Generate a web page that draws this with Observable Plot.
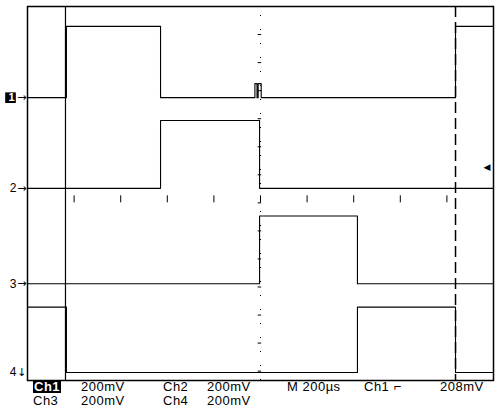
<!DOCTYPE html>
<html>
<head>
<meta charset="utf-8">
<script src="https://cdn.jsdelivr.net/npm/d3@7"></script>
<script src="https://cdn.jsdelivr.net/npm/@observablehq/plot@0.6"></script>
<style>
  body { margin: 0; background: #fff; }
  #wrap { position: relative; width: 500px; height: 409px; font-family: "Liberation Sans", Arial, sans-serif; }
  #readout span { position: absolute; font-size: 13px; line-height: 12px; color: #000; letter-spacing: 0.5px; white-space: nowrap; }
  #readout .inv { background: #000; color: #fff; padding: 0 1px; font-weight: bold; }
</style>
</head>
<body>
<div id="wrap">
  <div id="chart"></div>
  <div id="readout"></div>
</div>
<script>
// Time axis in microseconds (10 divisions x 200 µs), vertical in divisions (8 divs)
const timeDomain = [0, 2000];
const divDomain = [-4, 4];
const voltsPerDiv = 200; // mV/div for all channels

// Channel ground offsets (divisions from screen centre)
const channelNames = ["1", "2", "3", "4"];
const channelOffsets = [2.05, 0.11, -1.93, -3.83];
const channelArrows = ["→", "→", "→", "↓"];

// Step traces: transition times (µs) and levels (mV)
const ch1Time = [0, 167, 571, 976, 985, 990, 1003, 1837, 2000];
const ch1mV   = [0, 305, 0,   60,  0,   60,  0,    305,  305];
const ch2Time = [0, 571, 996, 2000];
const ch2mV   = [0, 290, 0,   0];
const ch3Time = [0, 996, 1416, 2000];
const ch3mV   = [0, 290, 0,    0];
const ch4Time = [0, 167, 1416, 1837, 2000];
const ch4mV   = [280, 0, 280,  0,    0];

// Cursors (µs) and trigger level marker (div)
const cursorSolid = 163;
const cursorDashed = 1837;
const triggerDiv = 0.56;

// Readout text
const readRow1 = [["Ch1", 33, true], ["200mV", 81], ["Ch2", 163], ["200mV", 207], ["M 200µs", 287], ["Ch1 ⌐", 364], ["208mV", 440]];
const readRow2 = [["Ch3", 33], ["200mV", 81], ["Ch4", 163], ["200mV", 207]];

const traces = [
  [ch1Time, ch1mV, 0], [ch2Time, ch2mV, 1], [ch3Time, ch3mV, 2], [ch4Time, ch4mV, 3]
].map(([t, v, i]) => t.map((ti, k) => ({t: ti, v: channelOffsets[i] + v[k] / voltsPerDiv, ch: channelNames[i]})));

// centre graticule ticks
const vTicks = d3.range(-3.8, 4, 0.6);
const hTicks = d3.range(200, 2000, 200);

const markers = channelNames.map((n, i) => ({n, y: channelOffsets[i], a: channelArrows[i]}));

const plot = Plot.plot({
  width: 500,
  height: 382,
  marginTop: 6,
  marginLeft: 27,
  marginRight: 7,
  marginBottom: 2,
  x: {domain: timeDomain, axis: null},
  y: {domain: divDomain, axis: null},
  marks: [
    Plot.frame({stroke: "#000", strokeWidth: 1.5}),
    // centre vertical graticule dashes
    Plot.ruleX([1000], {y1: -4, y2: 4, stroke: "#000", strokeWidth: 1, strokeDasharray: "1,13"}),
    Plot.ruleY(vTicks, {x1: 990, x2: 1005, stroke: "#000", strokeWidth: 1}),
    // centre horizontal graticule ticks
    Plot.ruleX(hTicks, {y1: -0.05, y2: -0.2, stroke: "#000", strokeWidth: 1}),
    // cursors
    Plot.ruleX([cursorSolid], {stroke: "#000", strokeWidth: 1.2}),
    Plot.ruleX([cursorDashed], {stroke: "#000", strokeWidth: 1.5, strokeDasharray: "11,5"}),
    // traces
    ...traces.map(tr => Plot.line(tr, {x: "t", y: "v", curve: "step-after", stroke: "#000", strokeWidth: 1.1})),
    // channel markers
    Plot.dot(markers.filter(d => d.n === "1"), {x: 0, y: "y", dx: -17, symbol: "square", r: 6, fill: "#000"}),
    Plot.text(markers.filter(d => d.n === "1"), {x: 0, y: "y", text: "n", dx: -13, textAnchor: "end", fill: "#fff", fontSize: 11, fontWeight: "bold", fontFamily: "Liberation Sans"}),
    Plot.text(markers.filter(d => d.n !== "1"), {x: 0, y: "y", text: "n", dx: -11, textAnchor: "end", fill: "#000", fontSize: 12, fontFamily: "Liberation Sans"}),
    Plot.text(markers, {x: 0, y: "y", text: "a", dx: -1, textAnchor: "end", fill: "#000", fontSize: 11, fontFamily: "DejaVu Sans"}),
    // trigger level marker
    Plot.text([triggerDiv], {x: 2000, y: d => d, text: ["◀"], dx: -3, textAnchor: "end", fill: "#000", fontSize: 9, fontFamily: "DejaVu Sans"})
  ]
});
document.getElementById("chart").appendChild(plot);

const ro = document.getElementById("readout");
function addRow(row, top) {
  for (const [txt, left, inv] of row) {
    const s = document.createElement("span");
    s.textContent = txt;
    s.style.left = left + "px";
    s.style.top = top + "px";
    if (inv) s.className = "inv";
    ro.appendChild(s);
  }
}
addRow(readRow1, 381);
addRow(readRow2, 395);
</script>
</body>
</html>
